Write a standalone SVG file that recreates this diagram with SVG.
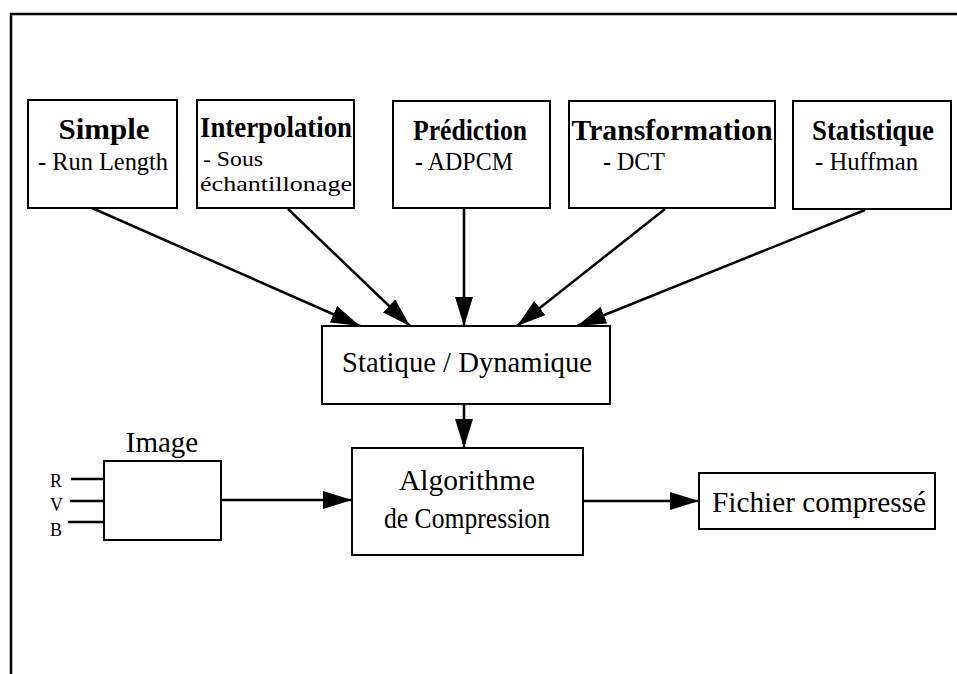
<svg xmlns="http://www.w3.org/2000/svg" width="957" height="674" viewBox="0 0 957 674">
  <style>
    .box { fill: #fff; stroke: #000; stroke-width: 2; }
    .frame { fill: none; stroke: #000; stroke-width: 2.5; }
    .wire { fill: none; stroke: #000; stroke-width: 2.5; }
    .arrow { fill: none; stroke: #000; stroke-width: 2.5; marker-end: url(#head); }
    .title { font-family: "Liberation Serif", "Times New Roman", serif; font-weight: bold; font-size: 29px; text-anchor: middle; fill: #000; }
    .sub { font-family: "Liberation Serif", "Times New Roman", serif; font-size: 26px; fill: #000; }
    .sub-tight { font-size: 22px; }
    .label { font-family: "Liberation Serif", "Times New Roman", serif; font-size: 29px; text-anchor: middle; fill: #000; }
    .pin { font-family: "Liberation Serif", "Times New Roman", serif; font-size: 18px; fill: #000; }
  </style>
  <defs>
    <marker id="head" markerUnits="userSpaceOnUse" markerWidth="30" markerHeight="18" refX="29" refY="9" orient="auto">
      <path d="M0,0 L29,9 L0,18 Z" fill="#000"/>
    </marker>
  </defs>

  <rect width="957" height="674" fill="#fff"/>

  <!-- page frame (top and left edges) -->
  <path class="frame" d="M11,674 L11,14 L957,14"/>

  <!-- connectors -->
  <g id="connectors">
    <line class="arrow" x1="92" y1="208" x2="360" y2="326"/>
    <line class="arrow" x1="288" y1="209" x2="410" y2="326"/>
    <line class="arrow" x1="464" y1="208" x2="464" y2="326"/>
    <line class="arrow" x1="665" y1="209" x2="517" y2="326"/>
    <line class="arrow" x1="865" y1="210" x2="577" y2="326"/>
    <line class="arrow" x1="464" y1="404" x2="464" y2="448"/>
    <line class="arrow" x1="221" y1="500" x2="352" y2="500"/>
    <line class="arrow" x1="583" y1="501" x2="699" y2="501"/>
    <line class="wire" x1="71" y1="479" x2="104" y2="479"/>
    <line class="wire" x1="70" y1="501" x2="104" y2="501"/>
    <line class="wire" x1="68" y1="522" x2="104" y2="522"/>
  </g>

  <!-- technique boxes -->
  <g id="simple">
    <rect class="box" x="28" y="100" width="149" height="108"/>
    <text class="title" x="104" y="139" textLength="91" lengthAdjust="spacingAndGlyphs">Simple</text>
    <text class="sub" x="38" y="170" textLength="130" lengthAdjust="spacingAndGlyphs">- Run Length</text>
  </g>
  <g id="interpolation">
    <rect class="box" x="197" y="100" width="157" height="108"/>
    <text class="title" x="276" y="137" textLength="152" lengthAdjust="spacingAndGlyphs">Interpolation</text>
    <text class="sub sub-tight" x="203" y="166" textLength="60" lengthAdjust="spacingAndGlyphs">- Sous</text>
    <text class="sub sub-tight" x="200" y="191" textLength="152" lengthAdjust="spacingAndGlyphs">échantillonage</text>
  </g>
  <g id="prediction">
    <rect class="box" x="393" y="101" width="157" height="107"/>
    <text class="title" x="470" y="140" textLength="114" lengthAdjust="spacingAndGlyphs">Prédiction</text>
    <text class="sub" x="415" y="170" textLength="98" lengthAdjust="spacingAndGlyphs">- ADPCM</text>
  </g>
  <g id="transformation">
    <rect class="box" x="569" y="101" width="206" height="107"/>
    <text class="title" x="672" y="140" textLength="201" lengthAdjust="spacingAndGlyphs">Transformation</text>
    <text class="sub" x="603" y="170" textLength="62" lengthAdjust="spacingAndGlyphs">- DCT</text>
  </g>
  <g id="statistique">
    <rect class="box" x="793" y="101" width="158" height="108"/>
    <text class="title" x="873" y="140" textLength="122" lengthAdjust="spacingAndGlyphs">Statistique</text>
    <text class="sub" x="815" y="170" textLength="103" lengthAdjust="spacingAndGlyphs">- Huffman</text>
  </g>

  <!-- processing chain -->
  <g id="statique-dynamique">
    <rect class="box" x="322" y="326" width="288" height="78"/>
    <text class="label" x="467" y="372" style="font-size:30px" textLength="250" lengthAdjust="spacingAndGlyphs">Statique / Dynamique</text>
  </g>
  <g id="image">
    <rect class="box" x="104" y="461" width="117" height="79"/>
    <text class="label" x="162" y="452">Image</text>
    <text class="pin" x="50" y="487">R</text>
    <text class="pin" x="50" y="511">V</text>
    <text class="pin" x="50" y="536">B</text>
  </g>
  <g id="algorithme">
    <rect class="box" x="352" y="448" width="231" height="107"/>
    <text class="label" x="467" y="490" textLength="136" lengthAdjust="spacingAndGlyphs">Algorithme</text>
    <text class="label" x="467" y="528" textLength="166" lengthAdjust="spacingAndGlyphs">de Compression</text>
  </g>
  <g id="fichier">
    <rect class="box" x="699" y="473" width="236" height="56"/>
    <text class="label" x="819" y="512" textLength="214" lengthAdjust="spacingAndGlyphs">Fichier compressé</text>
  </g>
</svg>
